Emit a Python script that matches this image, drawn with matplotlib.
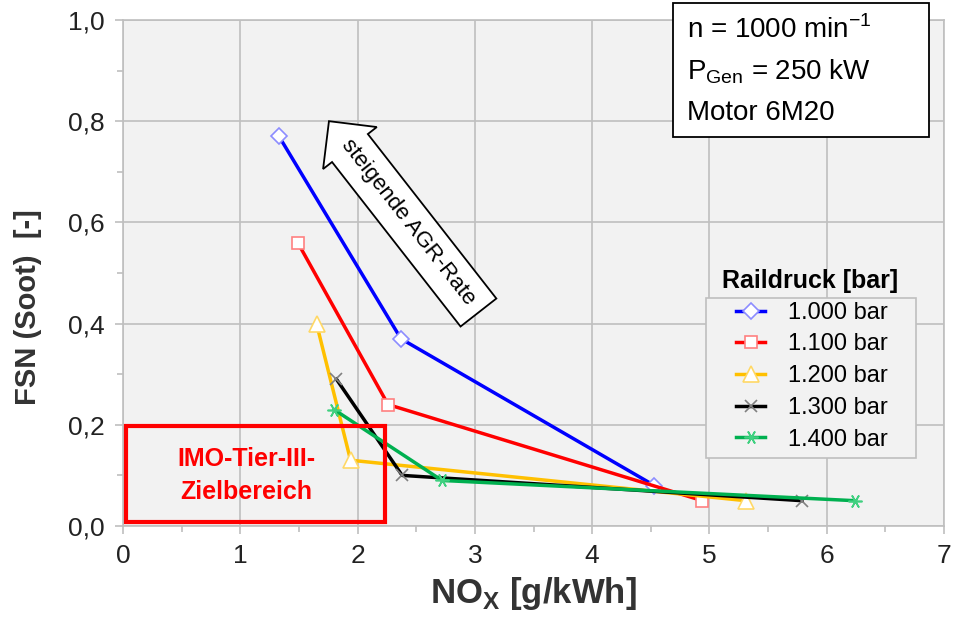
import matplotlib
matplotlib.use("Agg")
import matplotlib.pyplot as plt
from matplotlib.patches import Rectangle
from matplotlib.ticker import MultipleLocator, FuncFormatter

plt.rcParams["font.family"] = ["Liberation Sans", "DejaVu Sans"]

# NOx [g/kWh] vs FSN per rail pressure
labels = ["1.000 bar", "1.100 bar", "1.200 bar", "1.300 bar", "1.400 bar"]
nox_1000 = [1.33, 2.37, 4.53]
fsn_1000 = [0.77, 0.37, 0.08]
nox_1100 = [1.49, 2.26, 4.94]
fsn_1100 = [0.56, 0.24, 0.05]
nox_1200 = [1.65, 1.94, 5.31]
fsn_1200 = [0.40, 0.13, 0.05]
nox_1300 = [1.82, 2.38, 5.79]
fsn_1300 = [0.29, 0.10, 0.05]
nox_1400 = [1.80, 2.72, 6.24]
fsn_1400 = [0.23, 0.09, 0.05]

series = [(nox_1000, fsn_1000), (nox_1100, fsn_1100), (nox_1200, fsn_1200),
          (nox_1300, fsn_1300), (nox_1400, fsn_1400)]
colors = ["#0000ff", "#ff0000", "#ffc000", "#000000", "#00b050"]
edges = ["#8c8cff", "#ff8080", "#ffd866", "#808080", "#40d080"]
markers = ["D", "s", "^", "x", (6, 2, 90)]
msizes = [8, 9, 11, 9, 10]

fig = plt.figure(figsize=(9.57, 6.23), dpi=100)
ax = fig.add_axes([0.1285, 0.1557, 0.858, 0.8123])
ax.set_facecolor("#f2f2f2")

for (x, y), lab, c, e, m, ms in zip(series, labels, colors, edges, markers, msizes):
    ax.plot(x, y, color=c, lw=2.5, marker=m, ms=ms, mfc="white", mec=e,
            mew=1.2, label=lab, zorder=3)

ax.set_xlim(0, 7)
ax.set_ylim(0, 1.0)
ax.xaxis.set_major_locator(MultipleLocator(1))
ax.xaxis.set_minor_locator(MultipleLocator(0.5))
ax.yaxis.set_major_locator(MultipleLocator(0.2))
ax.yaxis.set_minor_locator(MultipleLocator(0.1))
ax.yaxis.set_major_formatter(FuncFormatter(lambda v, p: f"{v:.1f}".replace(".", ",")))
ax.grid(True, which="major", color="#bfbfbf", lw=1.2)
ax.set_axisbelow(True)
for s in ax.spines.values():
    s.set_color("#bfbfbf")
    s.set_linewidth(1.2)
ax.tick_params(which="both", direction="out", color="#bfbfbf", labelsize=19,
               labelcolor="#222222")
ax.tick_params(which="major", length=6, width=1.2, pad=7)
ax.tick_params(which="minor", length=4, width=1.2)

ax.set_xlabel("NO$_\\mathregular{X}$ [g/kWh]", fontsize=25, fontweight="bold",
              color="#333333", labelpad=5)
ax.set_ylabel("FSN (Soot)  [-]", fontsize=21, fontweight="bold", color="#333333")
ax.yaxis.set_label_coords(-0.099, 0.433)

# IMO Tier III target region
ax.add_patch(Rectangle((0.03, 0.008), 2.2, 0.19, fill=False, ec="#ff0000",
                       lw=3, zorder=4))
ax.text(1.05, 0.1, "IMO-Tier-III-\nZielbereich", color="#ff0000",
        fontsize=18, fontweight="bold", ha="center", va="center",
        linespacing=1.45, zorder=5)

# EGR rate arrow
ax.text(2.43, 0.6, "steigende AGR-Rate", rotation=-52, rotation_mode="anchor",
        ha="center", va="center", fontsize=16, zorder=5,
        bbox=dict(boxstyle="larrow,pad=0.55", fc="white", ec="black", lw=1.3))

# legend: frame drawn separately, title sits above the frame
ax.add_patch(Rectangle((0.710, 0.134), 0.256, 0.317, transform=ax.transAxes,
                       fc="#f2f2f2", ec="#bfbfbf", lw=1.2, zorder=6))
leg = ax.legend(loc="upper left", bbox_to_anchor=(0.747, 0.443), frameon=False,
                fontsize=17, handlelength=1.2, borderpad=0, labelspacing=0.41,
                handletextpad=1.0, borderaxespad=0)
leg.set_zorder(7)
ax.text(0.837, 0.47, "Raildruck [bar]", transform=ax.transAxes, fontsize=18,
        fontweight="bold", ha="center", va="baseline")

# info box (extends above the axes)
fig.patches.append(Rectangle((0.703, 0.780), 0.268, 0.215, transform=fig.transFigure,
                             fc="white", ec="black", lw=1.3, zorder=5))
fig.text(0.718, 0.952, "n = 1000 min$^{\\mathregular{-1}}$", fontsize=20,
         ha="left", va="center", zorder=6)
fig.text(0.718, 0.885, "P$_{\\mathregular{Gen}}$ = 250 kW", fontsize=20,
         ha="left", va="center", zorder=6)
fig.text(0.718, 0.818, "Motor 6M20", fontsize=20, ha="left", va="center", zorder=6)

fig.savefig("out.png", dpi=100, facecolor="white")
